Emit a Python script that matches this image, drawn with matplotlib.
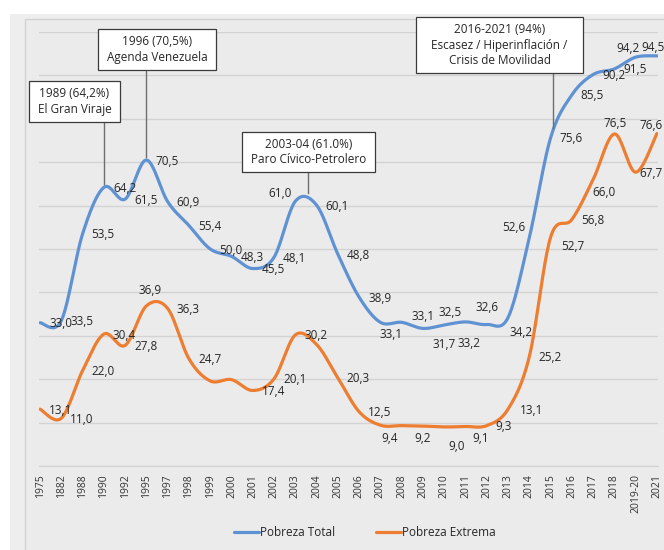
import matplotlib.pyplot as plt
import numpy as np
from matplotlib.patches import Rectangle

plt.rcParams['font.family'] = ['Open Sans', 'DejaVu Sans']

# Datos (porcentaje de hogares)
anios = ['1975', '1882', '1988', '1990', '1992', '1995', '1997', '1998', '1999', '2000',
         '2001', '2002', '2003', '2004', '2005', '2006', '2007', '2008', '2009', '2010',
         '2011', '2012', '2013', '2014', '2015', '2016', '2017', '2018', '2019-20', '2021']
pobreza_total = [33.0, 33.5, 53.5, 64.2, 61.5, 70.5, 60.9, 55.4, 50.0, 48.3,
                 45.5, 48.1, 61.0, 60.1, 48.8, 38.9, 33.1, 33.1, 31.7, 32.5,
                 33.2, 32.6, 34.2, 52.6, 75.6, 85.5, 90.2, 91.5, 94.2, 94.5]
pobreza_extrema = [13.1, 11.0, 22.0, 30.4, 27.8, 36.9, 36.3, 24.7, 19.6, 19.9,
                   17.4, 20.1, 30.2, 28.0, 20.3, 12.5, 9.4, 9.3, 9.2, 9.0,
                   9.1, 9.3, 13.1, 25.2, 52.7, 56.8, 66.0, 76.5, 67.7, 76.6]
extrema_sin_etiqueta = [8, 9, 13, 17]

notas = ['1989 (64,2%)\nEl Gran Viraje',
         '1996 (70,5%)\nAgenda Venezuela',
         '2003-04 (61.0%)\nParo Cívico-Petrolero',
         '2016-2021 (94%)\nEscasez / Hiperinflación /\nCrisis de Movilidad']

azul = '#5f92d3'
naranja = '#ed7d31'
texto = '#262626'


def suavizar(y, n=24):
    # curva suavizada tipo Excel (Bezier / Catmull-Rom)
    y = np.asarray(y, float)
    p = np.column_stack([np.arange(len(y), dtype=float), y])
    pts = np.vstack([p[0], p, p[-1]])
    t = np.linspace(0, 1, n)[:, None]
    out = []
    for i in range(len(y) - 1):
        p0, p1, p2, p3 = pts[i], pts[i + 1], pts[i + 2], pts[i + 3]
        c1 = p1 + (p2 - p0) / 6
        c2 = p2 - (p3 - p1) / 6
        seg = (1 - t)**3 * p1 + 3 * (1 - t)**2 * t * c1 + 3 * (1 - t) * t**2 * c2 + t**3 * p2
        out.append(seg if i == 0 else seg[1:])
    s = np.vstack(out)
    return s[:, 0], s[:, 1]


def etiquetas(ax, valores, ocultos, especiales):
    for i, v in enumerate(valores):
        if i in ocultos:
            continue
        dx, dy, ha = especiales.get(i, (9, 1, 'left'))
        ax.annotate(f'{v:.1f}'.replace('.', ','), (i, v), xytext=(dx, -dy),
                    textcoords='offset pixels', ha=ha, va='center',
                    fontsize=8.5, color=texto, zorder=6)


fig = plt.figure(figsize=(6.64, 5.5), dpi=100)
fig.patches.append(Rectangle((10 / 664, 0), 1, (550 - 14) / 550, transform=fig.transFigure,
                             fc='#eeeeee', ec='none', zorder=-2))
fig.patches.append(Rectangle((25 / 664, -0.01), 1, (550 - 19) / 550 + 0.01, transform=fig.transFigure,
                             fc='#ebebeb', ec='#d2d2d2', lw=1, zorder=-1))

ax = fig.add_axes([39 / 664, (550 - 466) / 550, (658 - 39) / 664, (466 - 32) / 550])
ax.set_zorder(2)
ax.patch.set_visible(False)

x, y = suavizar(pobreza_total)
ax.plot(x, y, color=azul, lw=2.3, solid_capstyle='round', zorder=3, label='Pobreza Total')
x, y = suavizar(pobreza_extrema)
ax.plot(x, y, color=naranja, lw=2.3, solid_capstyle='round', zorder=3, label='Pobreza Extrema')

etiquetas(ax, pobreza_total, [], {
    12: (-15, -8, 'center'), 16: (11, 12, 'center'), 17: (10, -6, 'left'),
    18: (10, 16, 'left'), 19: (6, -12, 'center'), 20: (4, 22, 'center'),
    21: (0, -17, 'center'), 22: (1, 15, 'left'), 23: (-15, -10, 'center'),
    28: (-8, -9, 'center'), 29: (-16, -8, 'left')})
etiquetas(ax, pobreza_extrema, extrema_sin_etiqueta, {
    5: (4, -15, 'center'), 16: (9, 13, 'center'), 18: (0, 12, 'center'),
    19: (12, 20, 'center'), 20: (15, 12, 'center'), 22: (12, 1, 'left'),
    24: (11, 9, 'left'), 26: (11, 13, 'center'), 27: (1, -10, 'center'),
    28: (4, 1, 'left'), 29: (-6, -8, 'center')})

# Recuadros de eventos (centro de caja, linea guia, margen lateral extra)
cajas = [(1.62, 84.0, 3, 65.0, 1), (5.5, 96.0, 5, 71.2, 1),
         (12.64, 72.4, 12.6, 62.8, 1), (21.6, 97.0, 24.1, 77.8, 3)]
for nota, (bx, by, lx, ly, extra) in zip(notas, cajas):
    ax.plot([lx, lx], [ly, by], color='#6f6f6f', lw=1, zorder=4)
    relleno = ' ' * extra
    txt = '\n'.join(relleno + linea + relleno for linea in nota.split('\n'))
    ax.text(bx, by, txt, ha='center', va='center', fontsize=8.5, color=texto,
            linespacing=1.25, zorder=5,
            bbox=dict(boxstyle='square,pad=0.5', fc='white', ec='#3a3a3a', lw=0.9))

ax.set_xlim(-0.05, 29.05)
ax.set_ylim(0, 100)
ax.set_xticks(range(len(anios)), anios, rotation=90, fontsize=7.5, color='#333333')
ax.set_yticks(range(0, 101, 10))
ax.tick_params(axis='x', length=0, pad=6)
ax.tick_params(axis='y', length=0, labelleft=False)
ax.yaxis.grid(True, color='#d3d3d3', lw=1)
ax.set_axisbelow(True)
for lado in ['top', 'left', 'right']:
    ax.spines[lado].set_visible(False)
ax.spines['bottom'].set_color('#d0d0d0')

fig.legend(loc='center', bbox_to_anchor=(365 / 664, 17 / 550), ncol=2, frameon=False,
           fontsize=8.5, handlelength=2.1, handletextpad=0.1, columnspacing=3.5,
           labelcolor=texto)

fig.savefig('out.png', dpi=100)
